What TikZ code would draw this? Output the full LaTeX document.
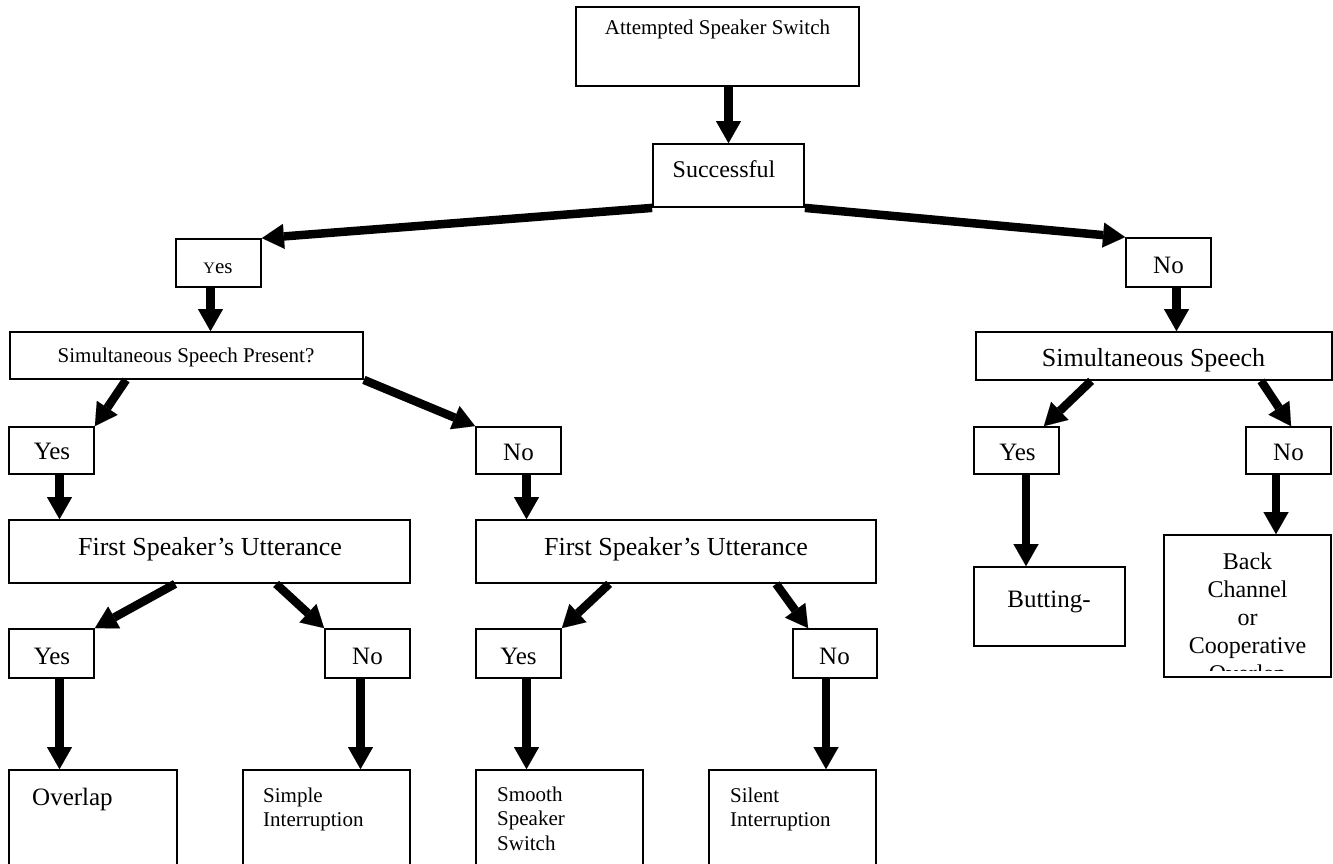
\documentclass[tikz,border=0pt]{standalone}
\usepackage{fontspec}
\setmainfont{Liberation Serif}
\usetikzlibrary{arrows.meta,fit}
\begin{document}
\begin{tikzpicture}[x=1pt,y=-1pt,
  box/.style={draw, line width=1.8pt, inner sep=0pt},
  arr/.style={line width=8.5pt, -{Triangle[length=22pt,width=25pt,line width=0.01pt]}},
  txt/.style={inner sep=0pt, anchor=base},
  big/.style={txt, font=\fontsize{25}{28}\selectfont},
  huge/.style={txt, font=\fontsize{26}{30}\selectfont},
  sml/.style={txt, font=\fontsize{21}{25}\selectfont},
  multi/.style={inner sep=0pt, anchor=base west, text width=150pt, align=left, font=\fontsize{21}{24.5}\selectfont}]
\useasboundingbox (0,0) rectangle (1333,863);
\clip (0,0) rectangle (1333,863);

% boxes
\node[box, fit={(576,7) (859,86)}] (att) {};
\node[box, fit={(653,144) (804,207)}] (succ) {};
\node[box, fit={(176,239) (261,287)}] (yesA) {};
\node[box, fit={(1126,238) (1211,287)}] (noA) {};
\node[box, fit={(10,332) (363,379)}] (ssp) {};
\node[box, fit={(976,332) (1332,380)}] (ss) {};
\node[box, fit={(9,427) (94,474)}] (yesB) {};
\node[box, fit={(476,427) (561,474)}] (noB) {};
\node[box, fit={(9,520) (410,583)}] (fsuA) {};
\node[box, fit={(476,520) (876,583)}] (fsuB) {};
\node[box, fit={(9,629) (94,678)}] (yesC) {};
\node[box, fit={(325,629) (410,678)}] (noC) {};
\node[box, fit={(476,629) (561,678)}] (yesD) {};
\node[box, fit={(793,629) (877,678)}] (noD) {};
\node[box, fit={(974,427) (1059,474)}] (yesE) {};
\node[box, fit={(1246,427) (1331,474)}] (noE) {};
\node[box, fit={(974,567) (1125,646)}] (butt) {};
\node[box, fit={(9,770) (177,900)}] (over) {};
\node[box, fit={(243,770) (410,900)}] (simp) {};
\node[box, fit={(476,770) (643,900)}] (smooth) {};
\node[box, fit={(709,770) (876,900)}] (silent) {};

% texts
\node[sml] (attT) at (717.5,34) {Attempted Speaker Switch};
\node[txt, font=\fontsize{24}{28}\selectfont] (succT) at (724,177) {Successful};
\node[sml] (yesAT) at (218,273) {{\fontsize{16}{16}\selectfont Y}es};
\node[big] (noAT) at (1168.5,273) {No};
\node[sml] (sspT) at (186,362) {Simultaneous Speech Present?};
\node[huge] (ssT) at (1153.5,366) {Simultaneous Speech};
\node[big] (yesBT) at (52,459) {Yes};
\node[big] (noBT) at (518.5,460) {No};
\node[huge] (fsuAT) at (210,555) {First Speaker’s Utterance};
\node[huge] (fsuBT) at (676,555) {First Speaker’s Utterance};
\node[big] (yesCT) at (52,664) {Yes};
\node[big] (noCT) at (367.5,664) {No};
\node[big] (yesDT) at (518.5,664) {Yes};
\node[big] (noDT) at (834.5,664) {No};
\node[big] (yesET) at (1017.5,460) {Yes};
\node[big] (noET) at (1288.5,460) {No};
\node[big] (buttT) at (1049,607) {Butting-};
\node[big, anchor=base west] (overT) at (32,805) {Overlap};
\node[multi] (simpT) at (263,802) {Simple\\Interruption};
\node[multi] (smoothT) at (497,801) {Smooth\\Speaker\\Switch};
\node[multi] (silentT) at (730,802) {Silent\\Interruption};

\begin{scope}
  \clip (1165,536) rectangle (1330,670);
  \node[inner sep=0pt, anchor=base, text width=160pt, align=center,
        font=\fontsize{24}{28}\selectfont] (backT) at (1247.5,569)
        {Back\\Channel\\or\\Cooperative\\Overlap};
\end{scope}
\node[box, fit={(1164,535) (1331,677)}] (back) {};

% connectors
\draw[arr] (att.south -| succ.north) -- (succ.north);
\draw[arr] (succ.south west) -- (yesA.north east);
\draw[arr] (succ.south east) -- (noA.north west);
\draw[arr] ([xshift=-8pt]yesA.south) -- ([xshift=-8pt]yesA.south |- ssp.north);
\draw[arr] ([xshift=8pt]noA.south) -- ([xshift=8pt]noA.south |- ss.north);
\draw[arr] ([xshift=117pt]ssp.south west) -- (yesB.north east);
\draw[arr] (ssp.south east) -- (noB.north west);
\draw[arr] ([xshift=8pt]yesB.south) -- ([xshift=8pt]yesB.south |- fsuA.north);
\draw[arr] ([xshift=8pt]noB.south) -- ([xshift=8pt]noB.south |- fsuB.north);
\draw[arr] ([xshift=167pt]fsuA.south west) -- (yesC.north east);
\draw[arr] ([xshift=268pt]fsuA.south west) -- (noC.north west);
\draw[arr] ([xshift=134pt]fsuB.south west) -- (yesD.north east);
\draw[arr] ([xshift=301pt]fsuB.south west) -- ([xshift=16pt]noD.north west);
\draw[arr] ([xshift=8pt]yesC.south) -- ([xshift=8pt]yesC.south |- over.north);
\draw[arr] ([xshift=-7pt]noC.south) -- ([xshift=-7pt]noC.south |- simp.north);
\draw[arr] ([xshift=8pt]yesD.south) -- ([xshift=8pt]yesD.south |- smooth.north);
\draw[arr] ([xshift=-9pt]noD.south) -- ([xshift=-9pt]noD.south |- silent.north);
\draw[arr] ([xshift=116pt]ss.south west) -- ([xshift=-16pt]yesE.north east);
\draw[arr] ([xshift=286pt]ss.south west) -- ([xshift=46pt]noE.north west);
\draw[arr] ([xshift=9.5pt]yesE.south) -- ([xshift=9.5pt]yesE.south |- butt.north);
\draw[arr] ([xshift=-12.5pt]noE.south) -- ([xshift=-12.5pt]noE.south |- back.north);
\end{tikzpicture}
\end{document}
